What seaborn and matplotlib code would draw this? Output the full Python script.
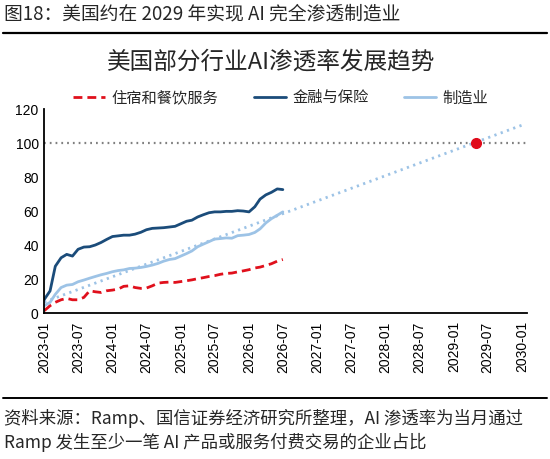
import pandas as pd
import matplotlib
matplotlib.use("Agg")
import matplotlib.pyplot as plt
import matplotlib.dates as mdates
import seaborn as sns

# 月度数据: 2023-01 至 2026-07
months = pd.date_range("2023-01-01", periods=43, freq="MS")

accommodation = [1.4, 4.3, 6.3, 7.8, 8.6, 7.8, 7.8, 9.2, 13.1, 12.5, 12.1, 13.1, 13.5, 14.1,
                 15.7, 16.0, 15.0, 14.5, 14.7, 16.0, 17.6, 18.0, 18.2, 18.0, 18.5, 19.0, 19.5,
                 20.2, 20.8, 21.5, 22.0, 22.8, 23.3, 23.5, 24.2, 24.8, 25.5, 26.5, 27.0, 28.0,
                 29.0, 30.5, 31.5]
finance = [8.0, 13.0, 27.5, 32.5, 34.5, 33.5, 37.5, 38.8, 39.0, 40.0, 41.5, 43.3, 45.0, 45.4,
           45.8, 45.8, 46.4, 47.5, 49.0, 49.8, 50.0, 50.2, 50.6, 51.0, 52.5, 54.0, 54.6, 56.5,
           57.8, 59.0, 59.5, 59.5, 59.8, 59.8, 60.2, 60.0, 59.5, 62.5, 67.0, 69.5, 71.0, 73.0,
           72.6]
manufacturing = [4.3, 6.3, 11.0, 15.0, 16.4, 16.8, 18.4, 19.4, 20.5, 21.5, 22.5, 23.3, 24.3,
                 25.0, 25.4, 26.2, 26.4, 26.8, 27.4, 28.2, 29.2, 30.5, 31.5, 32.0, 33.5, 35.0,
                 36.5, 39.0, 40.5, 42.0, 43.5, 43.8, 44.2, 44.0, 45.5, 45.8, 46.2, 47.4, 49.5,
                 53.0, 55.5, 57.5, 59.5]

# 制造业趋势线端点
trend_dates = pd.to_datetime(["2023-01-01", "2030-01-01"])
trend_values = [6.5, 110.5]
# 完全渗透时点
full_date = pd.to_datetime(["2029-05-01"])
full_value = [100]

sns.set_style("white")
plt.rcParams["font.family"] = ["Noto Sans CJK SC", "DejaVu Sans"]
plt.rcParams["axes.unicode_minus"] = False

fig = plt.figure(figsize=(5.5, 4.59), dpi=100)
ax = fig.add_axes([0.0805, 0.318, 0.877, 0.4445])

sns.lineplot(x=trend_dates, y=trend_values, ax=ax, color="#9DC3E6", lw=2.0,
             linestyle=(0, (0.8, 1.6)), legend=False)
ax.axhline(100, color="#808080", lw=1.6, linestyle=(0, (0.8, 1.8)))
sns.lineplot(x=months, y=accommodation, ax=ax, color="#E0101C", lw=2.0,
             linestyle=(0, (3.2, 1.8)), label="住宿和餐饮服务")
sns.lineplot(x=months, y=finance, ax=ax, color="#1B4C7A", lw=2.0, label="金融与保险")
sns.lineplot(x=months, y=manufacturing, ax=ax, color="#9DC3E6", lw=2.0, label="制造业")
ax.plot(full_date, full_value, "o", color="#E00A1A", ms=7, zorder=5)

ax.set_xlim(pd.Timestamp("2023-01-01"), pd.Timestamp("2030-01-26"))
ax.set_ylim(0, 120)
ax.set_yticks(range(0, 121, 20))
ax.xaxis.set_major_locator(mdates.MonthLocator(bymonth=[1, 7]))
ax.xaxis.set_major_formatter(mdates.DateFormatter("%Y-%m"))
ax.set_xlabel("")
ax.set_ylabel("")

for lab in ax.get_xticklabels() + ax.get_yticklabels():
    lab.set_fontfamily("Liberation Sans")
    lab.set_fontsize(10)
for lab in ax.get_xticklabels():
    lab.set_rotation(90)

ax.tick_params(axis="both", direction="in", length=4, width=1.2, colors="black", pad=4)
ax.tick_params(axis="x", pad=6)
sns.despine(ax=ax)
for s in ["left", "bottom"]:
    ax.spines[s].set_color("black")
    ax.spines[s].set_linewidth(1.3)

leg = ax.legend(loc="center", bbox_to_anchor=(0.49, 1.055), ncol=3, frameon=False,
                fontsize=11, handlelength=2.1, handletextpad=0.45, columnspacing=2.3)

fig.text(0.008, 0.969, "图18：美国约在 2029 年实现 AI 完全渗透制造业", fontsize=13.5,
         ha="left", va="center")
fig.add_artist(plt.Line2D([0.006, 0.994], [0.929, 0.929], color="black", lw=1.6))
fig.text(0.493, 0.865, "美国部分行业AI渗透率发展趋势", fontsize=17, ha="center", va="center")
fig.add_artist(plt.Line2D([0.006, 0.994], [0.133, 0.133], color="black", lw=1.4))
fig.text(0.008, 0.089, "资料来源：Ramp、国信证券经济研究所整理，AI 渗透率为当月通过", fontsize=12.5,
         ha="left", va="center")
fig.text(0.008, 0.035, "Ramp 发生至少一笔 AI 产品或服务付费交易的企业占比", fontsize=12.5,
         ha="left", va="center")

fig.savefig("out.png", dpi=100)
